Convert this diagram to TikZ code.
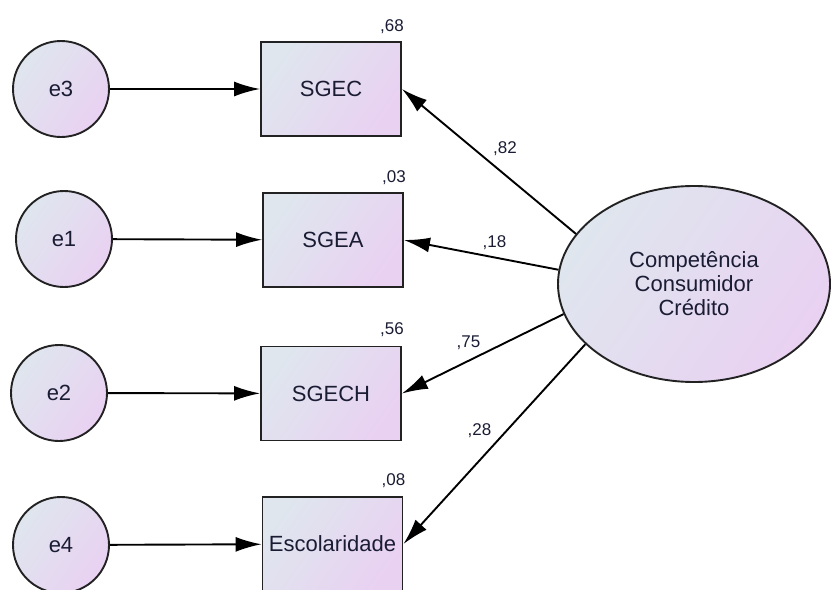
\documentclass[tikz,border=0pt]{standalone}
\usepackage{fontspec}
\setmainfont{Liberation Sans}
\usetikzlibrary{shapes.geometric,arrows.meta}
\definecolor{fillA}{HTML}{DFE6EE}
\definecolor{fillB}{HTML}{E9D1F2}
\definecolor{ink}{HTML}{1A1C34}
\definecolor{rim}{HTML}{222222}
\begin{document}
\begin{tikzpicture}[x=1pt,y=-1pt,
  amos/.style={draw=rim,line width=1.9pt,top color=fillA,bottom color=fillB,shading angle=55,
    text=ink,font=\fontsize{22}{24}\selectfont,inner sep=0pt},
  errc/.style={amos,circle,minimum size=96pt},
  obsv/.style={amos,rectangle,minimum width=140pt,minimum height=94pt},
  latv/.style={amos,ellipse,minimum width=272pt,minimum height=196pt,align=center},
  est/.style={text=ink,font=\fontsize{17}{17}\selectfont,inner sep=0pt},
  arr/.style={line width=1.9pt,-{Latex[length=26pt,width=15pt]}}]
  \useasboundingbox (0,0) rectangle (832,589);
  \node[errc](e3) at (61,89) {e3};
  \node[errc](e1) at (64,239) {e1};
  \node[errc](e2) at (59,393) {e2};
  \node[errc](e4) at (61,545) {e4};
  \node[obsv](sgec) at (331,89) {SGEC};
  \node[obsv](sgea) at (333,240) {SGEA};
  \node[obsv](sgech) at (331,393.5) {SGECH};
  \node[obsv](esc) at (332.5,544) {Escolaridade};
  \node[latv](comp) at (694,284) {Competência\\Consumidor\\Crédito};
  \node[est,anchor=base east](r2sgec) at ([shift={(2,-10)}]sgec.north east) {,68};
  \node[est,anchor=base east](r2sgea) at ([shift={(2,-10)}]sgea.north east) {,03};
  \node[est,anchor=base east](r2sgech) at ([shift={(2,-11)}]sgech.north east) {,56};
  \node[est,anchor=base east](r2esc) at ([shift={(2,-11)}]esc.north east) {,08};
  \draw[arr](e3)--(sgec);
  \draw[arr](e1)--(sgea);
  \draw[arr](e2)--(sgech);
  \draw[arr](e4)--(esc);
  \draw[arr](comp.157)--(sgec.east);
  \draw[arr](comp.174)--(sgea.east);
  \draw[arr](comp.193)--(sgech.east);
  \draw[arr](comp.209)--(esc.east);
  \node[est,anchor=base](l82) at (505,153) {,82};
  \node[est,anchor=base](l18) at (494.5,247) {,18};
  \node[est,anchor=base](l75) at (468.5,347) {,75};
  \node[est,anchor=base](l28) at (479.5,435) {,28};
\end{tikzpicture}
\end{document}
